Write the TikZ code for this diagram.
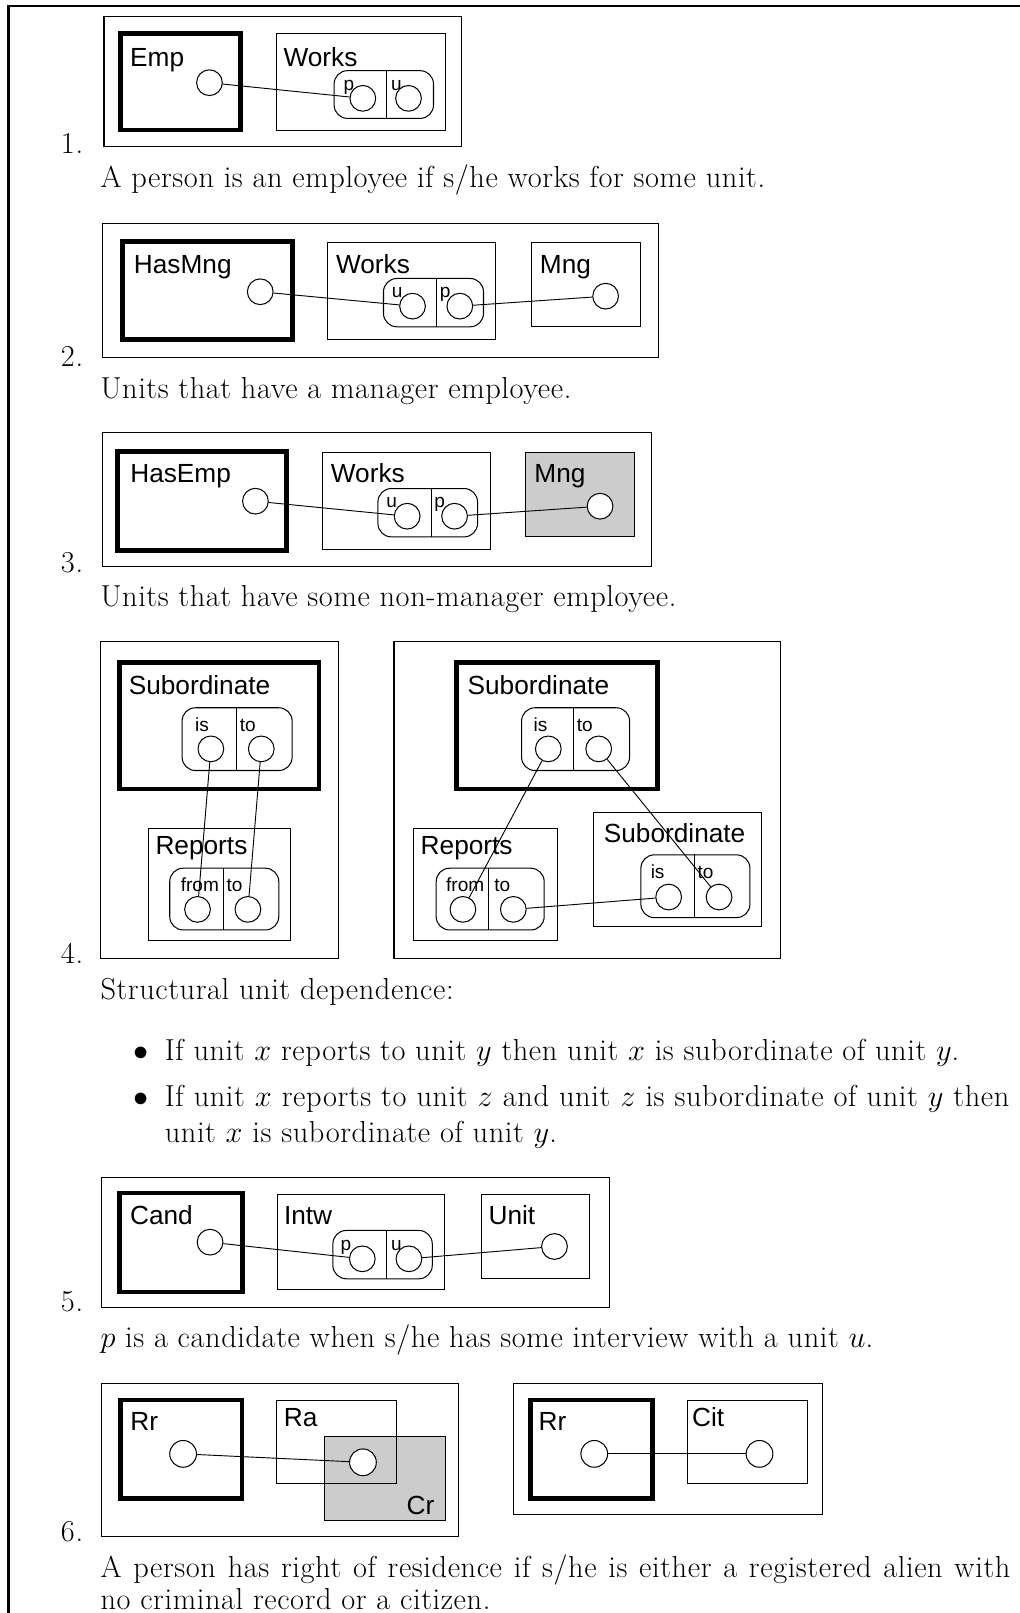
\RequirePackage{fix-cm}
\documentclass[tikz,border=0pt]{standalone}
\usepackage{fontspec}
\setmainfont{Latin Modern Roman}[LetterSpace=2]
\newfontfamily\hv{Liberation Sans}
\usetikzlibrary{fit}
\definecolor{shade}{gray}{0.8}
\newcommand\capsize{\fontsize{29.5}{34}\selectfont}

\begin{document}
\begin{tikzpicture}[x=1pt,y=-1pt,
  framing/.style={line width=2.4pt},
  outerbox/.style={draw, line width=1pt, inner sep=0pt},
  keybox/.style={draw, line width=4.5pt, inner sep=0pt},
  relbox/.style={draw, line width=1pt, inner sep=0pt},
  tuplebox/.style={draw, line width=1pt, inner sep=0pt, rounded corners=13pt},
  divider/.style={line width=1pt},
  var/.style={draw, fill=white, circle, line width=1pt, minimum size=25pt, inner sep=0pt},
  conn/.style={line width=0.9pt},
  ename/.style={font=\hv\fontsize{25.5}{30}\selectfont, anchor=base west, inner sep=0pt},
  role/.style={font=\hv\fontsize{18.5}{21}\selectfont, anchor=base west, inner sep=0pt},
  itemnum/.style={font=\capsize, anchor=base east, inner sep=0pt},
  caption/.style={font=\capsize, anchor=base west, inner sep=0pt},
]
\useasboundingbox (0,0) rectangle (991,1568);
\draw[framing] (8.4,1570) -- (8.4,5.8) -- (995,5.8);

% ---------- 1. Emp ----------
\node[outerbox, fit={(101.1,15.6) (449,142.6)}] (o1) {};
\node[keybox, fit={(117.4,32.7) (234,126.4)}] (emp) {};
\node[relbox, fit={(269,32.7) (432.8,126.4)}] (works1) {};
\node[tuplebox, fit={(324.8,68.7) (421.4,115.1)}] (t1) {};
\draw[divider] ([xshift=3pt]t1.north) -- ([xshift=3pt]t1.south);
\node[ename] (emp-n) at (126.4,64.2) {Emp};
\node[ename] (works1-n) at (275.5,64.2) {Works};
\node[role] (t1-p) at (333.9,87.5) {p};
\node[role] (t1-u) at (380,87.5) {u};
\node[var] (emp-c) at (203.6,80.4) {};
\node[var] (t1-pc) at (352.7,95.6) {};
\node[var] (t1-uc) at (397.1,95.6) {};
\draw[conn] (emp-c) -- (t1-pc);
\node[itemnum] (n1) at (81,149) {1.};
\node[caption] (c1) at (97.5,182) {A person is an employee if s/he works for some unit.};

% ---------- 2. HasMng ----------
\node[outerbox, fit={(100,217.2) (639.8,347.8)}] (o2) {};
\node[keybox, fit={(119,235) (284.6,330)}] (hasmng) {};
\node[relbox, fit={(318.5,236) (482,329.7)}] (works2) {};
\node[relbox, fit={(516.8,236) (622.2,317.7)}] (mng2) {};
\node[tuplebox, fit={(372.8,270.7) (470,317.7)}] (t2) {};
\draw[divider] ([xshift=3.3pt]t2.north) -- ([xshift=3.3pt]t2.south);
\node[ename] (hasmng-n) at (130,265.8) {HasMng};
\node[ename] (works2-n) at (326.5,265.8) {Works};
\node[ename] (mng2-n) at (524.7,265.8) {Mng};
\node[role] (t2-u) at (380.7,289) {u};
\node[role] (t2-p) at (427.5,289) {p};
\node[var] (hasmng-c) at (253,283.6) {};
\node[var] (t2-uc) at (401,297.6) {};
\node[var] (t2-pc) at (447,297.6) {};
\node[var] (mng2-c) at (588.7,287.9) {};
\draw[conn] (hasmng-c) -- (t2-uc);
\draw[conn] (t2-pc) -- (mng2-c);
\node[itemnum] (n2) at (81,356.5) {2.};
\node[caption] (c2) at (97.5,387.5) {Units that have a manager employee.};

% ---------- 3. HasEmp ----------
\node[outerbox, fit={(100,420.4) (633.3,551)}] (o3) {};
\node[keybox, fit={(114.5,439.2) (278.2,534.9)}] (hasemp) {};
\node[relbox, fit={(313.1,440.2) (476.8,533.9)}] (works3) {};
\node[relbox, fill=shade, fit={(511.3,440.2) (616.4,521.9)}] (mng3) {};
\node[tuplebox, fit={(367.4,474.9) (464.2,521.9)}] (t3) {};
\draw[divider] ([xshift=3.4pt]t3.north) -- ([xshift=3.4pt]t3.south);
\node[ename] (hasemp-n) at (126.5,469.5) {HasEmp};
\node[ename] (works3-n) at (321.5,469.5) {Works};
\node[ename] (mng3-n) at (519.3,469.5) {Mng};
\node[role] (t3-u) at (375.4,493.4) {u};
\node[role] (t3-p) at (422.1,493.4) {p};
\node[var] (hasemp-c) at (248.3,487.2) {};
\node[var] (t3-uc) at (395.8,501.8) {};
\node[var] (t3-pc) at (441.9,501.8) {};
\node[var] (mng3-c) at (583.3,492.1) {};
\draw[conn] (hasemp-c) -- (t3-uc);
\draw[conn] (t3-pc) -- (mng3-c);
\node[itemnum] (n3) at (81,556.5) {3.};
\node[caption] (c3) at (97.5,590) {Units that have some non-manager employee.};

% ---------- 4. Subordinate (left) ----------
\node[outerbox, fit={(98,624) (329,932)}] (o4a) {};
\node[keybox, fit={(116,644) (310,767)}] (suba) {};
\node[relbox, fit={(144,805) (282,914)}] (repa) {};
\node[tuplebox, fit={(177,688) (284,749)}] (tsa) {};
\node[tuplebox, fit={(165,844) (271,904)}] (tra) {};
\draw[divider] ([xshift=-0.5pt]tsa.north) -- ([xshift=-0.5pt]tsa.south);
\draw[divider] ([xshift=-1pt]tra.north) -- ([xshift=-1pt]tra.south);
\node[ename] (suba-n) at (125,675) {Subordinate};
\node[role] (tsa-is) at (189.6,711.5) {is};
\node[role] (tsa-to) at (233,711.5) {to};
\node[ename] (repa-n) at (151,830.5) {Reports};
\node[role] (tra-from) at (175.6,867) {from};
\node[role] (tra-to) at (220,867) {to};
\node[var] (tsa-isc) at (205,728) {};
\node[var] (tsa-toc) at (254,728) {};
\node[var] (tra-fromc) at (192,884) {};
\node[var] (tra-toc) at (241,884) {};
\draw[conn] (tsa-isc) -- (tra-fromc);
\draw[conn] (tsa-toc) -- (tra-toc);

% ---------- 4. Subordinate (right) ----------
\node[outerbox, fit={(383,624) (759,932)}] (o4b) {};
\node[keybox, fit={(444,644) (639,767)}] (subb) {};
\node[relbox, fit={(402,805) (542,914)}] (repb) {};
\node[relbox, fit={(577,790) (740,901)}] (subc) {};
\node[tuplebox, fit={(507,688) (612,749)}] (tsb) {};
\node[tuplebox, fit={(424,844) (529,904)}] (trb) {};
\node[tuplebox, fit={(623,831) (729,892)}] (tsc) {};
\draw[divider] ([xshift=-2pt]tsb.north) -- ([xshift=-2pt]tsb.south);
\draw[divider] ([xshift=-1.5pt]trb.north) -- ([xshift=-1.5pt]trb.south);
\draw[divider] ([xshift=-1pt]tsc.north) -- ([xshift=-1pt]tsc.south);
\node[ename] (subb-n) at (454.4,675) {Subordinate};
\node[role] (tsb-is) at (518.5,711.5) {is};
\node[role] (tsb-to) at (560.5,711.5) {to};
\node[ename] (repb-n) at (408.8,830.5) {Reports};
\node[role] (trb-from) at (433.5,867) {from};
\node[role] (trb-to) at (480.4,867) {to};
\node[ename] (subc-n) at (586.8,818.5) {Subordinate};
\node[role] (tsc-is) at (632.4,854.2) {is};
\node[role] (tsc-to) at (677.9,854.2) {to};
\node[var] (tsb-isc) at (533,728) {};
\node[var] (tsb-toc) at (582,728) {};
\node[var] (trb-fromc) at (450,884) {};
\node[var] (trb-toc) at (499,884) {};
\node[var] (tsc-isc) at (650,872) {};
\node[var] (tsc-toc) at (699,872) {};
\draw[conn] (tsb-isc) -- (trb-fromc);
\draw[conn] (tsb-toc) -- (tsc-toc);
\draw[conn] (trb-toc) -- (tsc-isc);
\node[itemnum] (n4) at (81,936.5) {4.};
\node[caption] (c4) at (97.5,971.5) {Structural unit dependence:};
\node[caption, anchor=base] (b1) at (137,1030.5) {$\bullet$};
\node[caption] (c4a) at (160,1030.5) {If unit $x$ reports to unit $y$ then unit $x$ is subordinate of unit $y$.};
\node[caption, anchor=base] (b2) at (137,1075.5) {$\bullet$};
\node[caption] (c4b) at (160,1075.5) {\makebox[821pt][s]{If unit $x$ reports to unit $z$ and unit $z$ is subordinate of unit $y$ then}};
\node[caption] (c4c) at (160,1110.5) {unit $x$ is subordinate of unit $y$.};

% ---------- 5. Cand ----------
\node[outerbox, fit={(99,1144.9) (592.1,1270.7)}] (o5) {};
\node[keybox, fit={(116.4,1159.8) (235.5,1256.1)}] (cand) {};
\node[relbox, fit={(269.4,1161.1) (432.1,1253.8)}] (intw) {};
\node[relbox, fit={(467.9,1161.1) (573.5,1242.5)}] (unit) {};
\node[tuplebox, fit={(323.6,1196.1) (420.2,1243.1)}] (t5) {};
\draw[divider] ([xshift=4pt]t5.north) -- ([xshift=4pt]t5.south);
\node[ename] (cand-n) at (126.3,1190.3) {Cand};
\node[ename] (intw-n) at (275.9,1190.3) {Intw};
\node[ename] (unit-n) at (474.8,1190.3) {Unit};
\node[role] (t5-p) at (330.8,1215.6) {p};
\node[role] (t5-u) at (380.1,1215.6) {u};
\node[var] (cand-c) at (204.2,1207.5) {};
\node[var] (t5-pc) at (352.2,1223.7) {};
\node[var] (t5-uc) at (397.5,1223.7) {};
\node[var] (unit-c) at (539,1211.7) {};
\draw[conn] (cand-c) -- (t5-pc);
\draw[conn] (t5-uc) -- (unit-c);
\node[itemnum] (n5) at (81,1274.5) {5.};
\node[caption] (c5) at (97.5,1310) {$p$ is a candidate when s/he has some interview with a unit $u$.};

% ---------- 6. Rr ----------
\node[outerbox, fit={(99,1345.2) (445.5,1493.7)}] (o6a) {};
\node[keybox, fit={(117.4,1360.8) (235.3,1456.5)}] (rra) {};
\node[relbox, fill=shade, fit={(315.6,1396.2) (432.7,1478.2)}] (cr) {};
\node[relbox, fit={(268.8,1361.5) (385.8,1442.5)}] (ra) {};
\node[ename] (rra-n) at (126.5,1390.7) {Rr};
\node[ename] (ra-n) at (275.7,1387) {Ra};
\node[ename, anchor=base east] (cr-n) at (422.5,1472) {Cr};
\node[var, minimum size=26pt] (rra-c) at (178,1413.3) {};
\node[var, minimum size=26pt] (ra-c) at (352.8,1421.5) {};
\draw[conn] (rra-c) -- (ra-c);

\node[outerbox, fit={(499.2,1345) (799.3,1472.3)}] (o6b) {};
\node[keybox, fit={(515.5,1360.8) (634.5,1456.5)}] (rrb) {};
\node[relbox, fit={(668,1361.5) (785,1442.5)}] (cit) {};
\node[ename] (rrb-n) at (523.5,1390.7) {Rr};
\node[ename] (cit-n) at (672.7,1387) {Cit};
\node[var, minimum size=26pt] (rrb-c) at (577.7,1413.3) {};
\node[var, minimum size=26pt] (cit-c) at (738.3,1413.3) {};
\draw[conn] (rrb-c) -- (cit-c);
\node[itemnum] (n6) at (81,1498.5) {6.};
\node[caption] (c6a) at (97.5,1533) {\makebox[884.5pt][s]{A person has right of residence if s/he is either a registered alien with}};
\node[caption] (c6b) at (97.5,1564.5) {no criminal record or a citizen.};
\end{tikzpicture}
\end{document}
